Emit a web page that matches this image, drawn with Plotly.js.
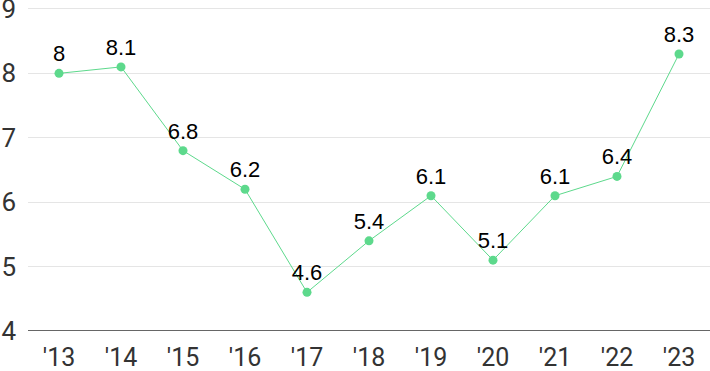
<!DOCTYPE html>
<html><head><meta charset="utf-8">
<script src="https://cdn.plot.ly/plotly-3.0.1.min.js"></script>
<style>html,body{margin:0;padding:0;background:#fff}#c{width:710px;height:371px}</style>
</head><body><div id="c"></div>
<script>
const years = ["'13","'14","'15","'16","'17","'18","'19","'20","'21","'22","'23"];
const values = [8, 8.1, 6.8, 6.2, 4.6, 5.4, 6.1, 5.1, 6.1, 6.4, 8.3];
const yTicks = [4, 5, 6, 7, 8, 9];
const labels = values.map(v => String(v));
const color = '#5dd98c';
Plotly.newPlot('c', [{
  x: years, y: values, type: 'scatter', mode: 'lines+markers+text',
  text: labels, textposition: 'top center',
  textfont: {family: 'Liberation Sans, Arial, sans-serif', size: 22, color: '#000'},
  line: {color: color, width: 1},
  marker: {color: color, size: 9},
  cliponaxis: false, hoverinfo: 'none'
}], {
  width: 710, height: 371,
  margin: {l: 28, r: 0, t: 7, b: 40},
  paper_bgcolor: '#fff', plot_bgcolor: '#fff',
  showlegend: false,
  xaxis: {type: 'category', range: [-0.5, 10.5], showgrid: false, zeroline: false,
    showline: false, ticks: '', ticklabelstandoff: 9, ticklabeloverflow: 'allow',
    tickfont: {family: 'Roboto, sans-serif', size: 25, color: '#333'}},
  yaxis: {range: [4, 9.03], tickvals: yTicks, ticktext: yTicks.map(String), showgrid: true, gridcolor: '#e5e5e5', gridwidth: 1,
    zeroline: false, showline: false, ticks: '', ticklabelstandoff: 11, ticklabeloverflow: 'allow',
    tickfont: {family: 'Roboto, sans-serif', size: 26, color: '#333'}},
  shapes: [{type: 'line', xref: 'paper', yref: 'y', x0: 0, x1: 1, y0: 4, y1: 4,
    line: {color: '#333', width: 1.5}}]
}, {displayModeBar: false, staticPlot: true});
</script></body></html>
